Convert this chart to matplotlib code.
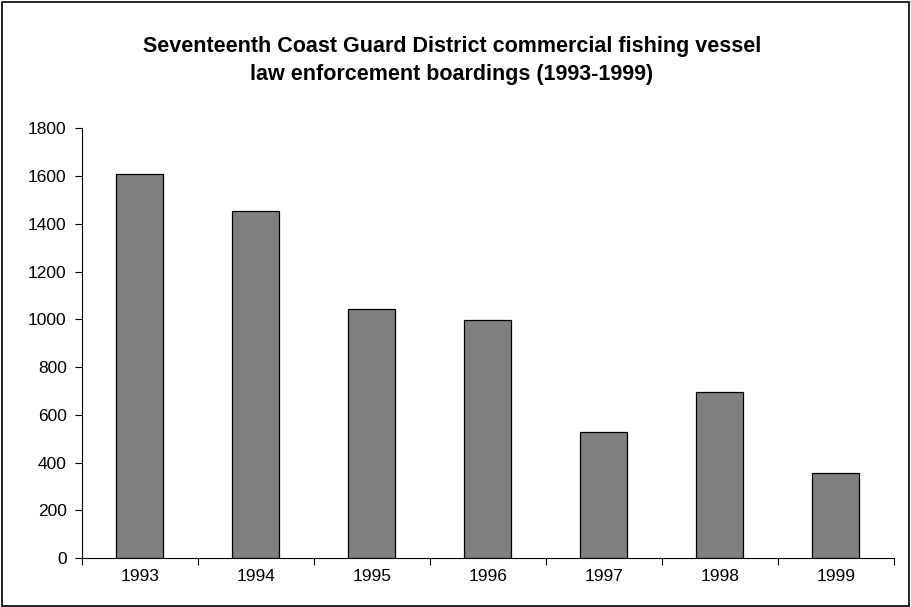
import matplotlib
matplotlib.use("Agg")
import matplotlib.pyplot as plt
from matplotlib.patches import Rectangle
import numpy as np

years = ["1993", "1994", "1995", "1996", "1997", "1998", "1999"]
boardings = [1610, 1453, 1042, 995, 529, 696, 357]
y_ticks = [0, 200, 400, 600, 800, 1000, 1200, 1400, 1600, 1800]

plt.rcParams['font.family'] = ['Liberation Sans', 'DejaVu Sans']

fig = plt.figure(figsize=(9.11, 6.07), dpi=100)
ax = fig.add_axes([0.090, 0.0807, 0.891, 0.708])

x = np.arange(len(years))
ax.bar(x, boardings, width=0.405, color='#808080', edgecolor='black', linewidth=0.9, zorder=3)

ax.set_xlim(-0.5, len(years) - 0.5)
ax.set_ylim(0, 1800)
ax.set_yticks(y_ticks)
ax.set_yticklabels([str(v) for v in y_ticks], fontsize=12.5)

ax.set_xticks(np.arange(-0.5, len(years), 1.0))
ax.set_xticklabels([])
ax.set_xticks(x, minor=True)
ax.set_xticklabels(years, minor=True, fontsize=12.5)
ax.tick_params(axis='x', which='major', direction='out', length=5, width=0.8)
ax.tick_params(axis='x', which='minor', length=0, pad=8)
ax.tick_params(axis='y', direction='out', length=5, width=0.8, pad=6)

ax.spines['top'].set_visible(False)
ax.spines['right'].set_visible(False)
ax.spines['left'].set_linewidth(0.8)
ax.spines['bottom'].set_linewidth(0.8)

fig.text(0.496, 0.924, "Seventeenth Coast Guard District commercial fishing vessel",
         ha='center', va='center', fontsize=15.5, fontweight='bold')
fig.text(0.496, 0.878, "law enforcement boardings (1993-1999)",
         ha='center', va='center', fontsize=15.5, fontweight='bold')

fig.patches.append(Rectangle((0.002, 0.002), 0.996, 0.995, transform=fig.transFigure,
                             fill=False, edgecolor='black', linewidth=1.2))

fig.savefig("out.png", dpi=100)
